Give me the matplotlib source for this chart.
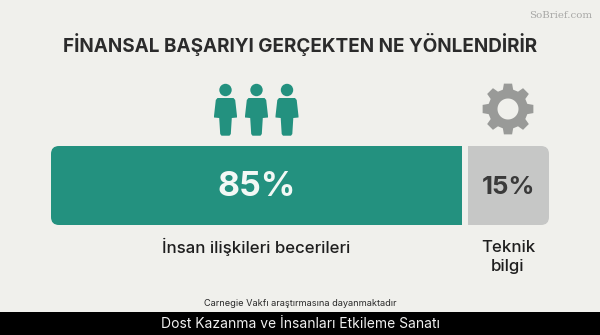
import numpy as np
import matplotlib
matplotlib.use("Agg")
import matplotlib.pyplot as plt
from matplotlib.patches import FancyBboxPatch, Polygon, Circle, Rectangle
from matplotlib.path import Path
from matplotlib.patches import PathPatch

title = "FİNANSAL BAŞARIYI GERÇEKTEN NE YÖNLENDİRİR"
shares = [85, 15]
share_labels = ["85%", "15%"]
categories = ["İnsan ilişkileri becerileri", "Teknik\nbilgi"]
source = "Carnegie Vakfı araştırmasına dayanmaktadır"
caption = "Dost Kazanma ve İnsanları Etkileme Sanatı"
watermark = "SoBrief.com"

W, H = 600, 335
BG, TEAL, GREY, GEAR, INK = "#F0F0EC", "#23917F", "#C6C7C6", "#999A98", "#2B2B2B"
FONT = "Inter"

fig = plt.figure(figsize=(W / 100, H / 100), dpi=100, facecolor=BG)
bg = fig.add_axes([0, 0, 1, 1])
bg.set_xlim(0, W); bg.set_ylim(H, 0); bg.axis("off")


def seg_axes(x0, x1, y0, y1):
    ax = fig.add_axes([x0 / W, 1 - y1 / H, (x1 - x0) / W, (y1 - y0) / H])
    ax.axis("off")
    return ax


def rounded(x0, x1, y0, y1, r=8):
    return FancyBboxPatch((x0 + r, y0 + r), x1 - x0 - 2 * r, y1 - y0 - 2 * r,
                          boxstyle=f"round,pad={r},rounding_size={r}",
                          transform=bg.transData, linewidth=0)


# Each segment has its own axes running from 0 to its share
y0, y1 = 146, 225
spans = [(51, 461.5), (467.7, 549)]
clips = [rounded(51, 490, y0, y1), rounded(430, 549, y0, y1)]
colors = [TEAL, GREY]
text_colors = ["#F2F8F5", "#3A3A3A"]
sizes = [24.5, 18.5]
for val, lab, cat, (a, b), clip, col, tc, fs in zip(
        shares, share_labels, categories, spans, clips, colors, text_colors, sizes):
    ax = seg_axes(a, b, y0, y1)
    bars = ax.barh([0], [val], height=1, color=col, linewidth=0)
    ax.set_xlim(0, val); ax.set_ylim(-0.5, 0.5)
    bars[0].set_clip_path(clip)
    ax.text(val / 2, -0.02, lab, ha="center", va="center", color=tc,
            fontsize=fs, fontweight="bold", family=FONT)

# Category labels
bg.text(256.5, 246.5, categories[0], ha="center", va="center", fontsize=12.1,
        color="#1E1E1E", family=FONT, fontweight="medium")
bg.text(508, 257, categories[1], ha="center", va="center", fontsize=12.1,
        color="#1E1E1E", family=FONT, fontweight="medium", linespacing=1.25)

bg.text(300, 44.5, title, ha="center", va="center", fontsize=13.6,
        fontweight="bold", color=INK, family=FONT)
bg.text(300, 303, source, ha="center", va="center", fontsize=6.65,
        color="#2A2A2A", family=FONT)
bg.text(561, 15, watermark, ha="center", va="center", fontsize=7.4,
        color="#A8A8A6", family="DejaVu Serif")

# Footer band
bg.add_patch(Rectangle((0, 311.5), W, H - 311.5, color="black", linewidth=0))
bg.text(300, 324, caption, ha="center", va="center", fontsize=10,
        color="#F0F0F0", family=FONT)

# People icons
for cx in (225.5, 256.5, 287):
    bg.add_patch(Circle((cx, 90), 6.2, color=TEAL, linewidth=0))
    body = [(-8, 98), (8, 98), (9.7, 100), (11.5, 116), (11.5, 117.5), (6.3, 118),
            (5.3, 134), (4, 135.7), (-4, 135.7), (-5.3, 134), (-6.3, 118),
            (-11.5, 117.5), (-11.5, 116), (-9.7, 100)]
    bg.add_patch(Polygon([(cx + dx, y) for dx, y in body], closed=True,
                         color=TEAL, linewidth=0))

# Gear icon
gx, gy = 508, 109
n = 8
pts = []
for k in range(n):
    c = -np.pi / 2 + k * 2 * np.pi / n
    for da, r in [(-0.26, 20), (-0.16, 25.7), (0.16, 25.7), (0.26, 20)]:
        pts.append((gx + r * np.cos(c + da), gy + r * np.sin(c + da)))
outer = pts + [pts[0]]
th = np.linspace(0, 2 * np.pi, 60)
inner = [(gx + 10.5 * np.cos(t), gy - 10.5 * np.sin(t)) for t in th]
verts = outer + inner
codes = ([Path.MOVETO] + [Path.LINETO] * (len(outer) - 2) + [Path.CLOSEPOLY]
         + [Path.MOVETO] + [Path.LINETO] * (len(inner) - 2) + [Path.CLOSEPOLY])
bg.add_patch(PathPatch(Path(verts, codes), facecolor=GEAR, linewidth=0))

fig.savefig("out.png", dpi=100, facecolor=BG)
